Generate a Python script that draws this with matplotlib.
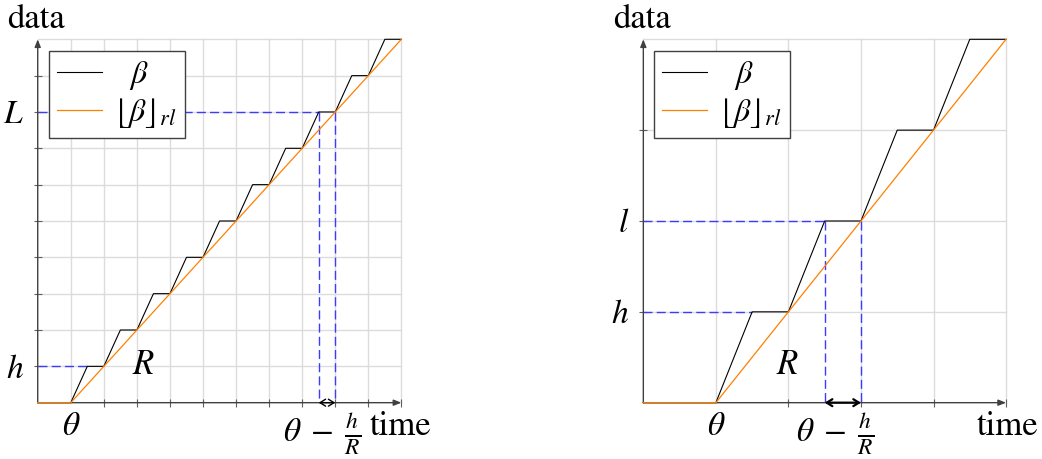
import matplotlib
matplotlib.use("Agg")
import matplotlib.pyplot as plt

plt.rcParams['mathtext.fontset'] = 'stix'
plt.rcParams['font.family'] = ['STIXGeneral', 'DejaVu Serif']

# ---------------- data ----------------
# left panel
beta_left_x = [0, 1, 1.5, 2, 2.5, 3, 3.5, 4, 4.5, 5, 5.5, 6, 6.5, 7, 7.5, 8, 8.5, 9, 9.5, 10, 10.5, 11]
beta_left_y = [0, 0, 1, 1, 2, 2, 3, 3, 4, 4, 5, 5, 6, 6, 7, 7, 8, 8, 9, 9, 10, 10]
rl_left_x = [0, 1, 11]
rl_left_y = [0, 0, 10]
left_xlim = (0, 11)
left_ylim = (0, 10)
left_h = 1
left_L = 8
left_h_end = 1.5
left_v1 = 8.5
left_v2 = 9
left_xticks = [1, 2, 3, 4, 5, 6, 7, 8, 9, 10, 11]
left_yticks = [1, 2, 3, 4, 5, 6, 7, 8, 9]
left_ytick_labels = {1: r'$h$', 8: r'$L$'}
left_R_pos = (3.2, 1.0)
left_frac_x = 8.6

# right panel
beta_right_x = [0, 1, 1.5, 2, 2.5, 3, 3.5, 4, 4.5, 5]
beta_right_y = [0, 0, 1, 1, 2, 2, 3, 3, 4, 4]
rl_right_x = [0, 1, 5]
rl_right_y = [0, 0, 4]
right_xlim = (0, 5)
right_ylim = (0, 4)
right_h = 1
right_l = 2
right_h_end = 1.5
right_v1 = 2.5
right_v2 = 3
right_xticks = [1, 2, 3, 4, 5]
right_yticks = [1, 2, 3]
right_ytick_labels = {1: r'$h$', 2: r'$l$'}
right_R_pos = (1.98, 0.40)
right_frac_x = 2.64

ORANGE = '#ff8000'
BLUE = '#3c3cff'
GRID = '#dcdcdc'
AXC = '#404040'
MATH_FS = 24
TEXT_FS = 25

fig = plt.figure(figsize=(10.42, 4.59), dpi=100)
axL = fig.add_axes([0.0362, 0.1227, 0.3490, 0.7917])
axR = fig.add_axes([0.6174, 0.1227, 0.3481, 0.7917])


def draw_panel(ax, bx, by, rx, ry, xlim, ylim, hval, hend, topval, v1, v2,
               xticks, yticks, ylabels, Rpos, fracx, arrow_lw, leg_x):
    ax.set_xlim(*xlim)
    ax.set_ylim(*ylim)
    for s in ax.spines.values():
        s.set_visible(False)
    # grid
    for xv in range(1, int(xlim[1]) + 1):
        ax.axvline(xv, color=GRID, lw=1.0, zorder=0, clip_on=False)
    for yv in range(1, int(ylim[1]) + 1):
        ax.axhline(yv, color=GRID, lw=1.0, zorder=0, clip_on=False)
    # axes arrows
    ax.annotate('', xy=(1.0, 0), xytext=(0, 0), xycoords='axes fraction',
                arrowprops=dict(arrowstyle='-|>,head_length=0.45,head_width=0.18',
                                color=AXC, lw=1.0, shrinkA=0, shrinkB=0), zorder=3)
    ax.annotate('', xy=(0, 1.0), xytext=(0, 0), xycoords='axes fraction',
                arrowprops=dict(arrowstyle='-|>,head_length=0.45,head_width=0.18',
                                color=AXC, lw=1.0, shrinkA=0, shrinkB=0), zorder=3)
    # ticks
    ax.set_xticks(xticks)
    ax.set_xticklabels([r'$\theta$'] + [''] * (len(xticks) - 1), fontsize=MATH_FS)
    ax.set_yticks(yticks)
    ax.set_yticklabels([ylabels.get(v, '') for v in yticks], fontsize=MATH_FS)
    ax.tick_params(axis='both', direction='inout', length=6, width=0.8,
                   color='#606060', pad=4)
    ax.tick_params(axis='y', pad=7)
    ax.xaxis.get_major_ticks()[0].tick1line.set_visible(False)
    # dashed helpers
    dash = (0, (6.5, 3))
    ax.plot([0, hend], [hval, hval], color=BLUE, lw=1.0, ls=dash, zorder=2)
    ax.plot([0, v1], [topval, topval], color=BLUE, lw=1.0, ls=dash, zorder=2)
    ax.plot([v1, v1], [topval, 0], color=BLUE, lw=1.0, ls=dash, zorder=2)
    ax.plot([v2, v2], [topval, 0], color=BLUE, lw=1.0, ls=dash, zorder=2)
    # curves
    ax.plot(bx, by, color='black', lw=0.8, label=r'$\enspace\;\beta$', zorder=4, clip_on=False)
    ax.plot(rx, ry, color=ORANGE, lw=0.9, label=r'$\lfloor\beta\rfloor_{rl}$', zorder=5, clip_on=False)
    # double arrow
    ax.annotate('', xy=(v2, 0), xytext=(v1, 0), xycoords='data',
                arrowprops=dict(arrowstyle='<->,head_length=0.4,head_width=0.25',
                                color='black', lw=arrow_lw, shrinkA=0, shrinkB=0), zorder=6)
    # texts
    ax.text(Rpos[0], Rpos[1], r'$R$', fontsize=MATH_FS + 1, ha='center', va='center')
    ax.text(fracx, -0.108, r'$\theta\;-\;\frac{h}{R}$', fontsize=MATH_FS, ha='center',
            va='baseline', transform=ax.get_xaxis_transform())
    ax.text(-0.084, 1.03, 'data', fontsize=TEXT_FS, ha='left', va='baseline',
            transform=ax.transAxes)
    leg = ax.legend(loc='upper left', bbox_to_anchor=(leg_x, 0.9686), borderaxespad=0,
                    fontsize=MATH_FS - 1, handlelength=1.4, handletextpad=0.35,
                    borderpad=0.25, labelspacing=0.15, fancybox=False, framealpha=1,
                    edgecolor='#404040')
    leg.get_frame().set_linewidth(1.0)
    return ax


draw_panel(axL, beta_left_x, beta_left_y, rl_left_x, rl_left_y, left_xlim, left_ylim,
           left_h, left_h_end, left_L, left_v1, left_v2, left_xticks, left_yticks,
           left_ytick_labels, left_R_pos, left_frac_x, 1.0, 0.032)
draw_panel(axR, beta_right_x, beta_right_y, rl_right_x, rl_right_y, right_xlim, right_ylim,
           right_h, right_h_end, right_l, right_v1, right_v2, right_xticks, right_yticks,
           right_ytick_labels, right_R_pos, right_frac_x, 1.6, 0.030)

axL.text(0.914, -0.088, 'time', fontsize=TEXT_FS, ha='left', va='baseline', transform=axL.transAxes)
axR.text(0.92, -0.088, 'time', fontsize=TEXT_FS, ha='left', va='baseline', transform=axR.transAxes)

fig.savefig('out.png', dpi=100)
